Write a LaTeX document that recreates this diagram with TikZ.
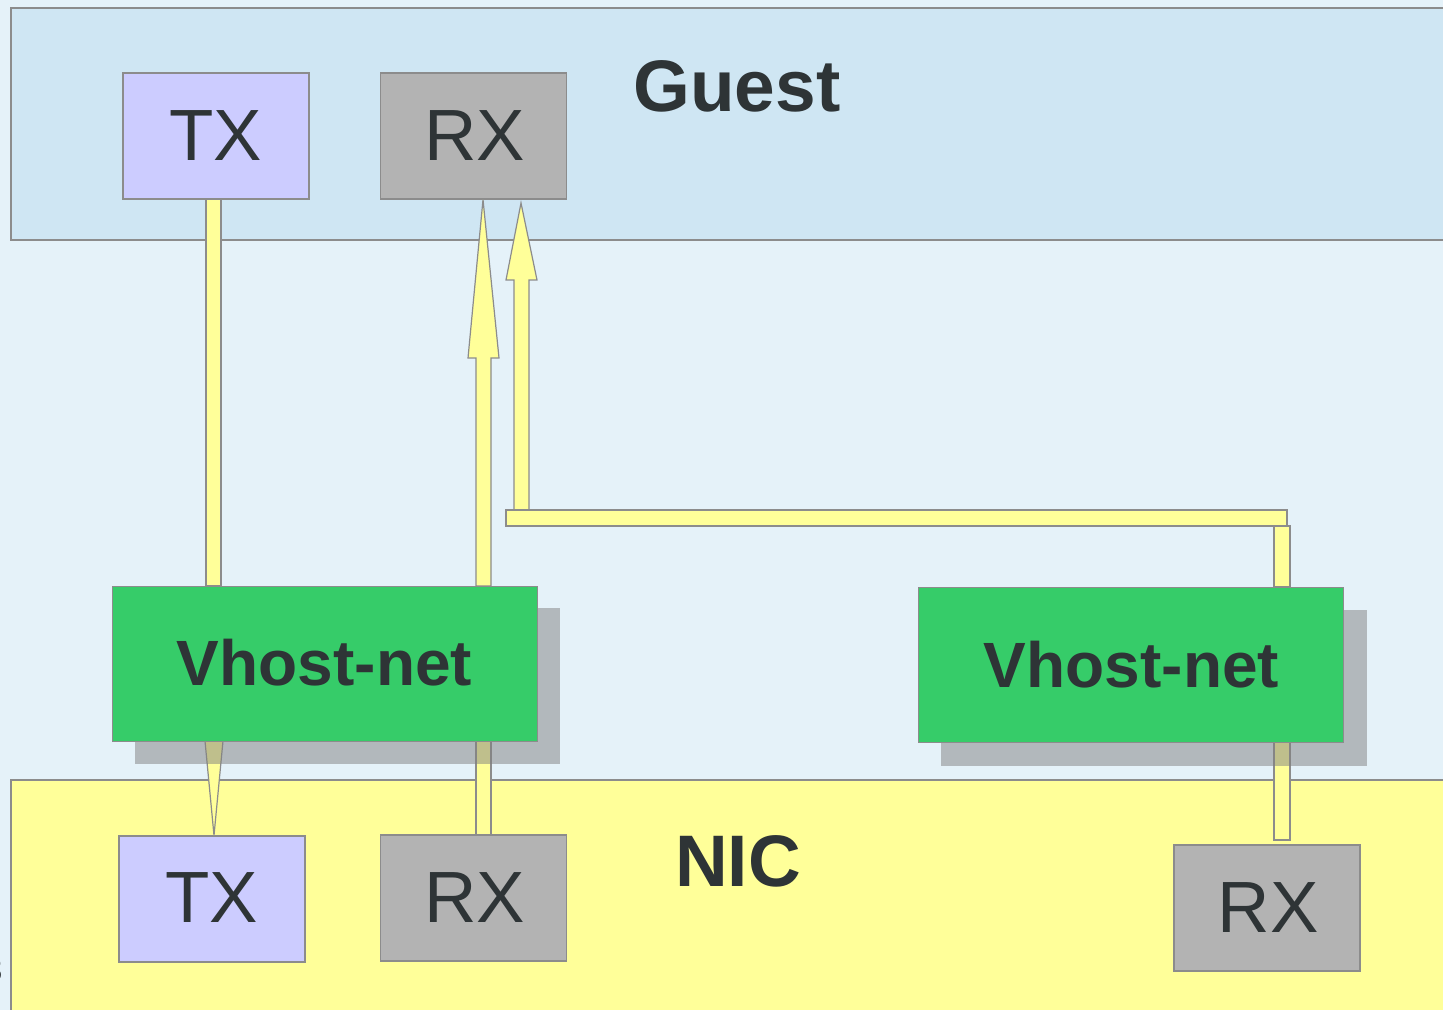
\documentclass[tikz,border=0pt]{standalone}
\usepackage{fontspec}
\setmainfont{Liberation Sans}
\usetikzlibrary{calc}
\definecolor{pagebg}{HTML}{E5F2F9}
\definecolor{guestbg}{HTML}{CFE6F3}
\definecolor{nicbg}{HTML}{FFFF99}
\definecolor{txfill}{HTML}{CCCCFF}
\definecolor{rxfill}{HTML}{B3B3B3}
\definecolor{vhgreen}{HTML}{36CC69}
\definecolor{edge}{HTML}{8C8C8C}
\definecolor{ink}{HTML}{2E3436}
\definecolor{pipe}{HTML}{FFFF99}
\tikzset{
  region/.style={draw=edge, line width=0.6pt},
  queue/.style={draw=edge, line width=0.6pt, minimum width=93pt, minimum height=63pt,
    inner sep=0pt, text=ink, font=\fontsize{36.3}{40}\selectfont},
  txq/.style={queue, fill=txfill},
  rxq/.style={queue, fill=rxfill},
  vhost/.style={draw=edge, line width=0.5pt, fill=vhgreen, minimum width=212.5pt,
    minimum height=77.5pt, inner sep=0pt},
  vhlabel/.style={text=ink, inner sep=0pt, font=\fontsize{32}{36}\selectfont\bfseries},
  title/.style={text=ink, inner sep=0pt, font=\fontsize{36.5}{40}\selectfont\bfseries},
  pipeline/.style={draw=edge, line width=0.6pt, fill=pipe},
  dropshadow/.style={fill=black!50, opacity=0.5},
}
\begin{document}
\begin{tikzpicture}[x=0.5pt, y=-0.5pt]
\useasboundingbox (0,0) rectangle (1443,1010);
\fill[pagebg] (0,0) rectangle (1443,1010);

% host regions
\draw[region, fill=guestbg] (11,8) rectangle (1460,240);
\draw[region, fill=nicbg] (11,780) rectangle (1460,1030);

% queue boxes
\node[txq] (gtx) at (216,136) {};
\node[rxq] (grx) at (473.5,136) {};
\node[txq] (ntx) at (212,899) {};
\node[rxq] (nrx) at (473.5,898) {};
\node[rxq] (nrx2) at (1267,908) {};

% vhost placeholders (for anchors)
\path (324.5,663.5) coordinate (vh1c) (1130.5,664.5) coordinate (vh2c);
\path ($(vh1c)+(-212.5,-77.5)$) coordinate (vh1nw) ($(vh1c)+(212.5,77.5)$) coordinate (vh1se);
\path ($(vh2c)+(-212.5,-77.5)$) coordinate (vh2nw) ($(vh2c)+(212.5,77.5)$) coordinate (vh2se);

% guest TX -> vhost
\draw[pipeline] (206,0 |- gtx.south) rectangle (221,0 |- vh1nw);
% vhost -> guest RX (tall arrow)
\draw[pipeline] (476,0 |- vh1nw) -- (476,358) -- (468,358) -- (483,0 |- grx.south)
  -- (499,358) -- (491,358) -- (491,0 |- vh1nw) -- cycle;
% second vhost -> guest RX path
\draw[pipeline] (514,510) -- (514,280) -- (506,280) -- (521,203) -- (537,280)
  -- (529,280) -- (529,510) -- cycle;
\draw[pipeline] (506,510) rectangle (1287,526);
\draw[pipeline] (1274,526) rectangle (1290,0 |- vh2nw);
% vhost -> NIC TX
\draw[pipeline] (205,0 |- vh1se) -- (214,0 |- ntx.north) -- (223,0 |- vh1se) -- cycle;
% NIC RX -> vhost
\draw[pipeline] (476,0 |- vh1se) rectangle (491,0 |- nrx.north);
\draw[pipeline] (1274,0 |- vh2se) rectangle (1290,840);

% shadows
\fill[dropshadow] ($(vh1nw)+(23,22)$) rectangle ($(vh1se)+(23,23)$);
\fill[dropshadow] ($(vh2nw)+(23,23)$) rectangle ($(vh2se)+(24,24)$);

% vhost boxes
\node[vhost] (vh1) at (vh1c) {};
\node[vhost] (vh2) at (vh2c) {};
\node[vhlabel] at (324.5,663) {Vhost-net};
\node[vhlabel] at (1131.5,665) {Vhost-net};

% queue labels
\node[queue, draw=none, minimum width=0pt, minimum height=0pt] at (216,136) {TX};
\node[queue, draw=none, minimum width=0pt, minimum height=0pt] at (475,136) {RX};
\node[queue, draw=none, minimum width=0pt, minimum height=0pt] at (212,898) {TX};
\node[queue, draw=none, minimum width=0pt, minimum height=0pt] at (475,898) {RX};
\node[queue, draw=none, minimum width=0pt, minimum height=0pt] at (1268,908) {RX};

% titles
\node[title] (guest) at (737,86) {Guest};
\node[title] (nic) at (738,861) {NIC};
\node[text=ink, inner sep=0pt, anchor=east, font=\fontsize{17}{20}\selectfont] (pg) at (3,970) {3};
\end{tikzpicture}
\end{document}
